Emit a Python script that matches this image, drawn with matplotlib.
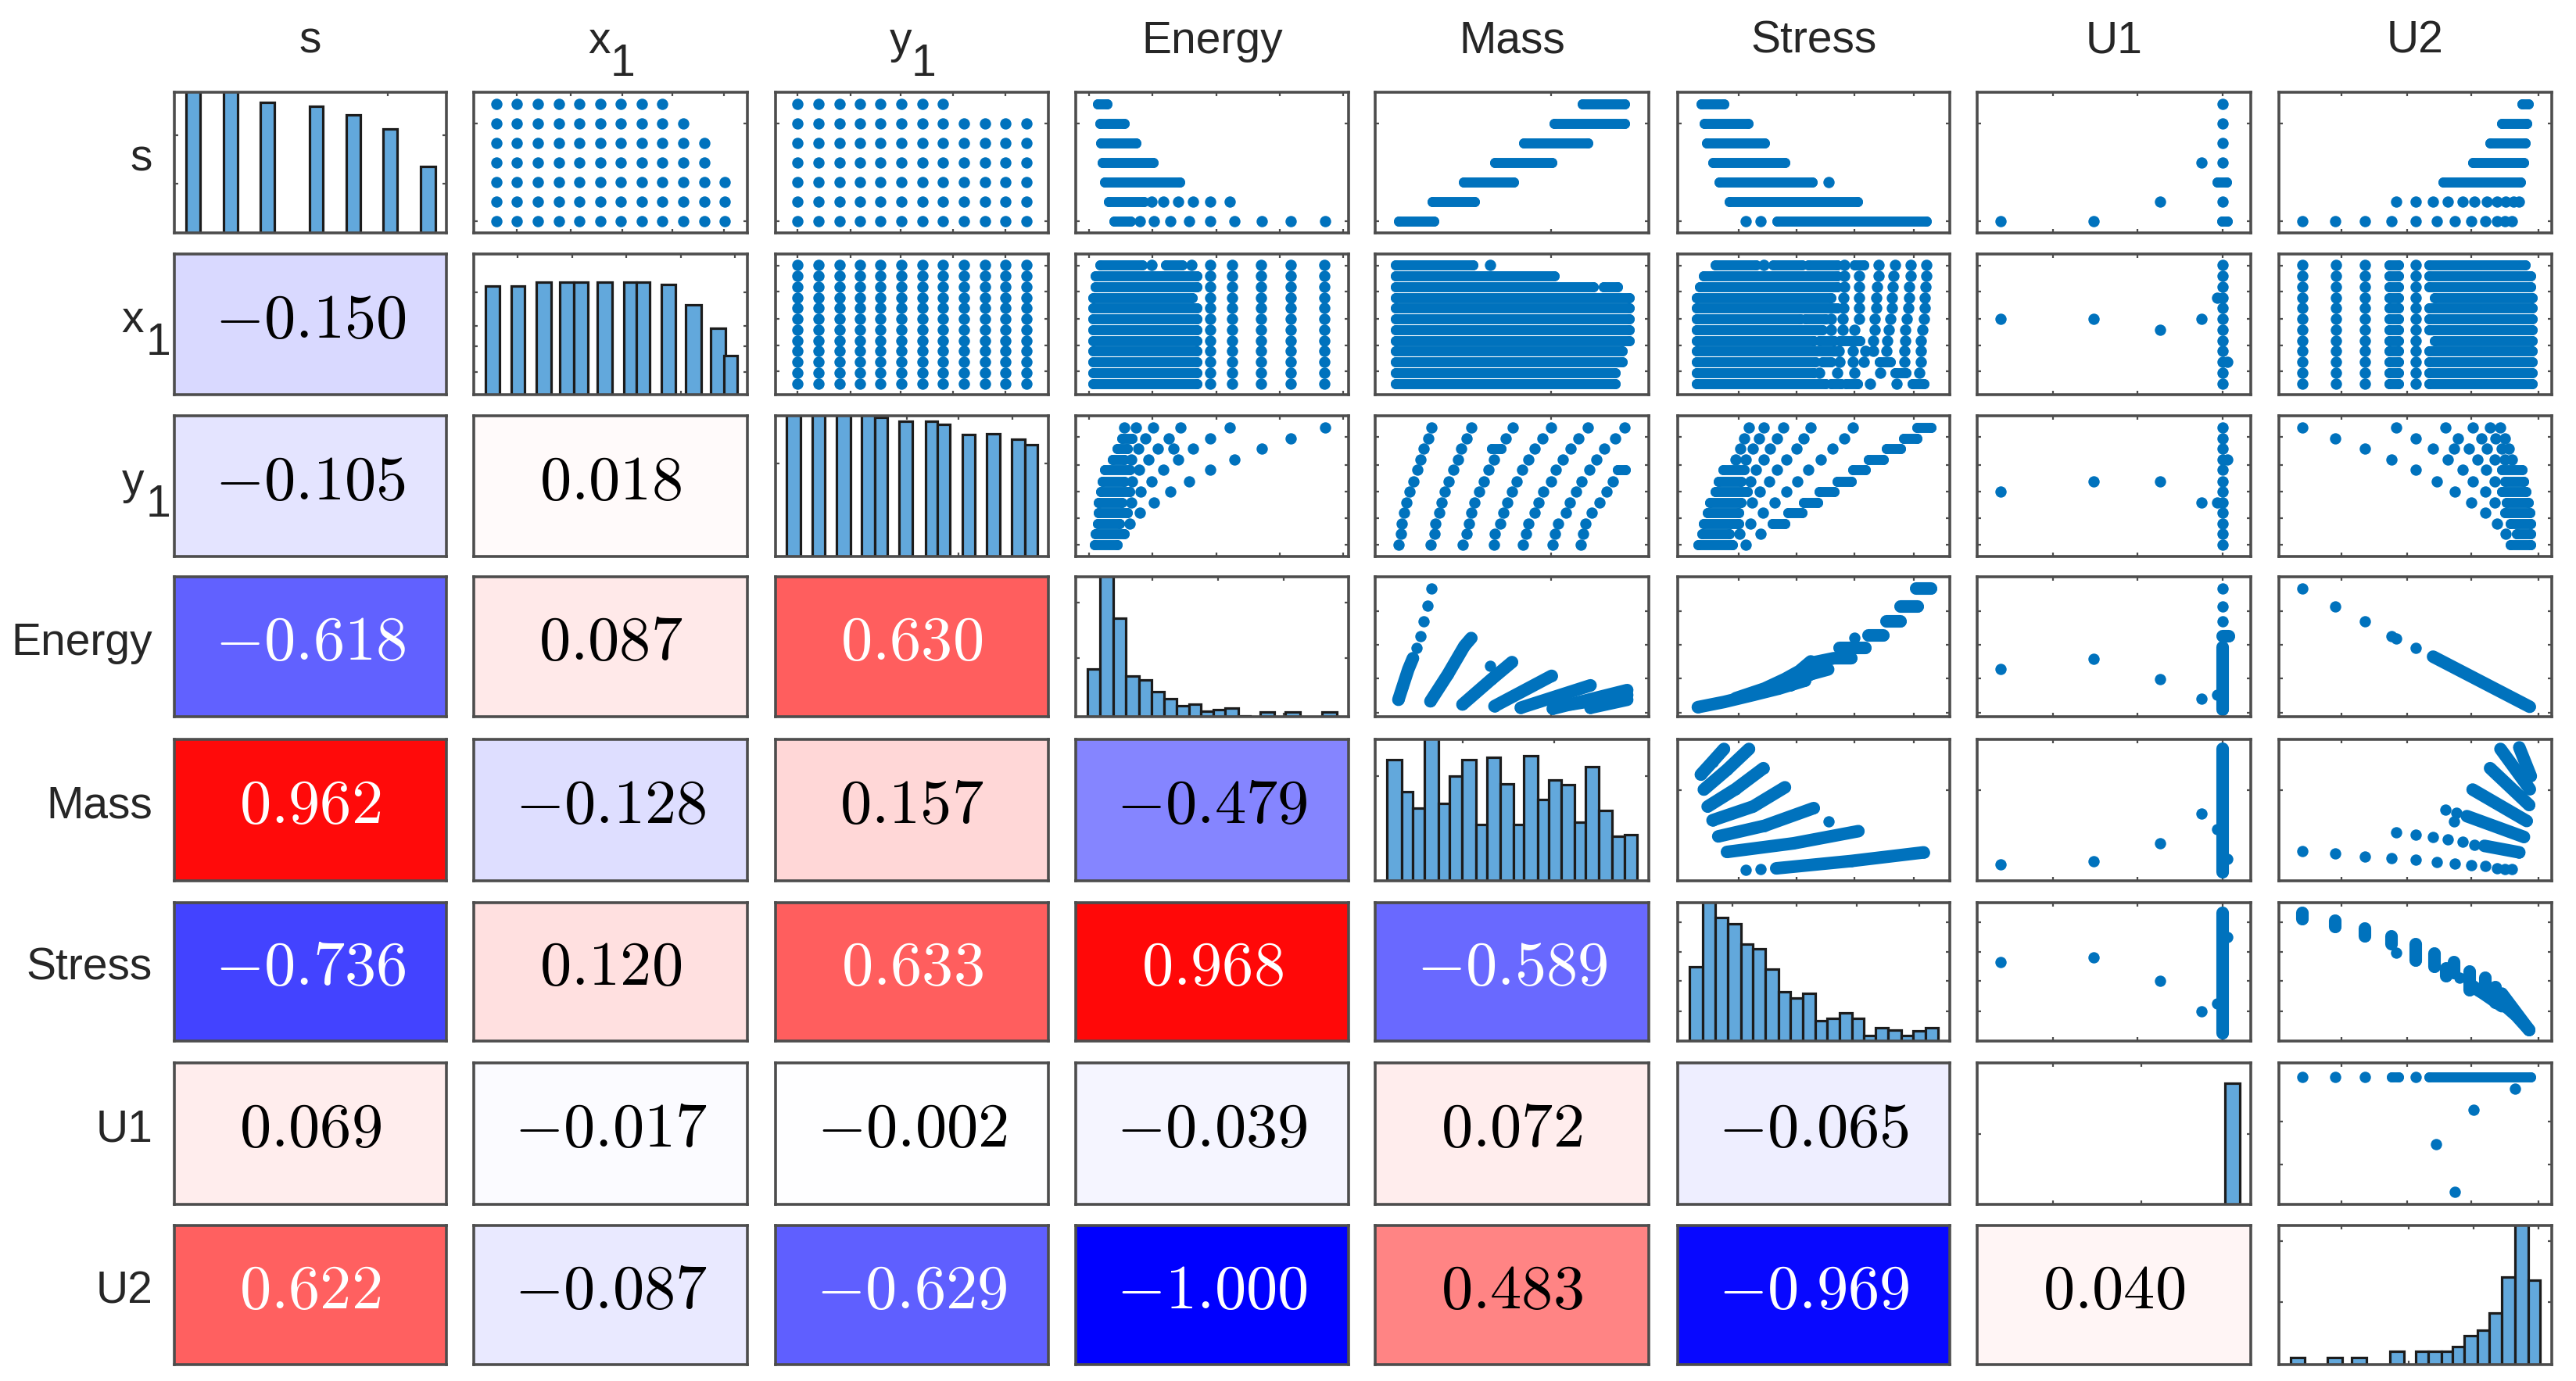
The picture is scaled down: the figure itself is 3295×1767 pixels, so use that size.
import numpy as np
from matplotlib import pyplot as plt

plt.rcParams['font.family'] = ['Liberation Sans', 'DejaVu Sans']
plt.rcParams['mathtext.fontset'] = 'cm'

########################################################################
# Variables and correlations
########################################################################

names = [('s', ''), ('x', '1'), ('y', '1'), ('Energy', ''), ('Mass', ''),
         ('Stress', ''), ('U1', ''), ('U2', '')]

corr_row1 = [-0.150]
corr_row2 = [-0.105, 0.018]
corr_row3 = [-0.618, 0.087, 0.630]
corr_row4 = [0.962, -0.128, 0.157, -0.479]
corr_row5 = [-0.736, 0.120, 0.633, 0.968, -0.589]
corr_row6 = [0.069, -0.017, -0.002, -0.039, 0.072, -0.065]
corr_row7 = [0.622, -0.087, -0.629, -1.000, 0.483, -0.969, 0.040]

########################################################################
# Histograms on the diagonal (bar left, bar right, bar height), scaled 0-100
# bars higher than 100 run off the top of their panel
########################################################################

s_left = [4.2, 18.2, 31.6, 49.8, 63.1, 76.8, 90.5]
s_right = [9.5, 23.4, 36.9, 54.7, 68.4, 82, 96]
s_height = [110, 110, 93, 90, 84, 74, 47]

x1_left = [4.2, 13.7, 22.9, 31.5, 36.6, 45.2, 54.9, 59.5, 68.7, 77.5, 86.6, 91.4]
x1_right = [9.5, 18.6, 28.2, 36.6, 41.7, 50.7, 59.5, 64.4, 73.6, 83, 91.9, 96.2]
x1_height = [77, 77, 80, 80, 80, 80, 80, 80, 78.4, 64, 47, 28]

y1_left = [4.1, 13.4, 22.4, 31.5, 36.3, 45.4, 54.9, 59.2, 68.5, 77.4, 86.4, 91.4]
y1_right = [9.1, 18.1, 27.4, 36.3, 41.1, 50, 59.2, 63.8, 73.1, 82.3, 91.4, 96]
y1_height = [110, 110, 110, 110, 99, 96, 96, 94, 86.5, 87, 83.5, 79.7]

energy_left = [4.3, 9, 13.7, 18.4, 23.1, 27.7, 32.4, 37.1, 41.6, 45.8, 50.5, 54.8, 59.7, 67.6, 76.8, 90.4]
energy_right = [9, 13.7, 18.4, 23.1, 27.7, 32.4, 37.1, 41.6, 45.8, 50.5, 54.8, 59.7, 64, 72.9, 82.1, 95.8]
energy_height = [33.8, 110, 70.3, 28.8, 26.5, 18, 12.6, 7.6, 8.7, 3.9, 5.3, 6.4, 0.7, 3.4, 3.4, 3.4]

mass_left = [4.3, 9.6, 13.8, 18.1, 23.2, 27, 31.7, 36.8, 40.9, 45.7, 50.6, 54.4, 59.5, 63.3, 68, 72.9, 76.9, 81.8, 86.7, 91]
mass_right = [9.6, 13.8, 18.1, 23.2, 27, 31.7, 36.8, 40.9, 45.7, 50.6, 54.4, 59.5, 63.3, 68, 72.9, 76.9, 81.8, 86.7, 91, 95.7]
mass_height = [85.5, 62.8, 51.6, 110, 54.9, 74.1, 85.5, 39.6, 87.3, 68.6, 39.6, 88.4, 57.5, 71.5, 68.1, 41.6, 80.5, 49.9, 31.7, 32.4]

stress_left = [4.3, 9.1, 13.8, 18.5, 23.2, 27.6, 32.3, 37, 41.3, 45.9, 50.6, 55, 59.6, 64, 68.5, 72.8, 77.4, 82.1, 86.6, 91]
stress_right = [9.1, 13.8, 18.5, 23.2, 27.6, 32.3, 37, 41.3, 45.9, 50.6, 55, 59.6, 64, 68.5, 72.8, 77.4, 82.1, 86.6, 91, 95.7]
stress_height = [53.7, 110, 89.2, 84.7, 70.3, 66.8, 51.9, 35.5, 30.9, 34.3, 14.9, 16.5, 20.6, 16.5, 3.9, 9.6, 8, 3.9, 7.3, 9.6]

u1_left = [90.6]
u1_right = [96.1]
u1_height = [85.5]

u2_left = [4.3, 17.7, 26.7, 40.6, 50.1, 54.6, 59.5, 63.5, 68, 72.7, 77, 81.7, 86.6, 91.3]
u2_right = [9.4, 23.2, 32, 45.9, 54.6, 59.5, 63.5, 68, 72.7, 77, 81.7, 86.6, 91.3, 95.7]
u2_height = [4.8, 4.8, 4.8, 9.8, 9.8, 9.8, 9.8, 12.8, 20.8, 24.7, 36.8, 63, 110, 60.7]

########################################################################
# Scatter panels, scaled 0-100
# rows: one list per level, a number is a dot, a pair is a solid run of dots
# tracks: lists of (x, y) vertices along a band of dots
########################################################################

s_levels = [91.6, 77.7, 63.9, 50, 36.1, 22.3, 8.4]
x1_levels = [92, 84.3, 76.7, 69, 61.4, 53.8, 46.2, 38.5, 30.9, 23.3, 15.6, 8]
y1_levels = [91.6, 83.9, 76.4, 68.9, 61.4, 53.6, 46.1, 38.4, 30.9, 23.4, 15.9, 8.2]

x1_values = [8.2, 15.8, 23.5, 31.1, 38.5, 46.2, 53.8, 61.5, 68.9, 76.5, 84.2, 91.8]
y1_values = [8.1, 15.8, 23.4, 31, 38.5, 46.1, 53.8, 61.4, 69, 76.7, 84.3, 91.9]

s_x1_counts = [9, 10, 11, 11, 12, 12, 12]
s_y1_counts = [8, 12, 12, 12, 12, 12, 12]

s_energy = [
    [(7.9, 11.5)],
    [(8.8, 17.9)],
    [(9.2, 22)],
    [(9.7, 28.4)],
    [(10.6, 38)],
    [(12, 25), 27.7, 32.2, 37.4, 42.9, 49.3, 56.4],
    [(14, 20), 23.6, 28.6, 34.8, 41.6, 49.3, 58.2, 68.3, 78.9, 91.4],
]
s_mass = [
    [(75.6, 91)],
    [(65.5, 91)],
    [(54.2, 77.8)],
    [(43.6, 64.5)],
    [(32.4, 50.5)],
    [(20.9, 36.4)],
    [(8.7, 21.5)],
]
s_stress = [
    [(8.5, 17)],
    [(9.8, 26)],
    [(10.6, 32)],
    [(12.8, 39.4)],
    [(15.3, 49.4), 55.5],
    [(19, 66)],
    [24.9, 30.6, (36.6, 91.5)],
]
s_u1 = [
    [89.8],
    [89.8],
    [89.8],
    [82, 89.8],
    [(87.7, 91)],
    [66.9, 89.8],
    [8.5, 42.7, (89.4, 91.5)],
]
s_u2 = [
    [(89.1, 91.3)],
    [(81.7, 90.8)],
    [(77.4, 90.2)],
    [(71, 89.8)],
    [(60.3, 88.5)],
    [42.9, 50.1, 56.5, 62, 67.2, 71.6, 76.3, 80, 83.2, 85.9, 88],
    [8.5, 20.5, 31.6, 41.2, 50.1, 57.8, 64.6, 70.6, 75.7, 80, 82.9, 85.5],
]

x1_energy_every = [49.3, 57.3, 68, 78.9, 91.2]
x1_energy = [
    [(8.8, 24.4), 27.7, (33, 39), 42.3],
    [(7.3, 44.5)],
    [(7.3, 44.5)],
    [(6.4, 42.7)],
    [(6.4, 44.5)],
    [(6.4, 44.5)],
    [(6.4, 44.5)],
    [(6.4, 44.5)],
    [(6.4, 44.5)],
    [(6.4, 44.5)],
    [(6.4, 44.5)],
    [(6.4, 44.5)],
]
x1_mass = [
    [(7.3, 35.6), 42],
    [(7.3, 65.5)],
    [(7.3, 79.6), (83.3, 88.7)],
    [(7.3, 92.9)],
    [(7.3, 92.9)],
    [(7.3, 92.9)],
    [(7.3, 92.9)],
    [(7.3, 92.9)],
    [(7.3, 90.2)],
    [(7.3, 90.2)],
    [(7.3, 87.8)],
    [(7.3, 87.8)],
]
x1_stress = [
    [(13.8, 28.7), 31.5, (35.1, 45.7), (47.9, 58.5), 61.3, (64.9, 68.5), 73.8, 79.8, 85.7, 91.5],
    [(9.6, 58.5), 61.3, 66.6, 73.8, 79.4, 85.5, 91.5],
    [(8.1, 58.5), 61.3, 66.6, 73.4, 79.1, 85.1, 91.1],
    [(6.8, 56.4), 60.9, 66.6, 73, 78.7, 85.1, 90.9],
    [(6.8, 58.5), 60.9, 66.6, 73, 78.7, 84.7, 90.9],
    [(6.8, 45.1), (46.8, 54.3), 56.4, 60.6, 66.6, 72.3, 78.3, 84.3, 90.4],
    [(6.8, 53.2), 56.4, 60.6, 64.9, 72.3, 77.7, 83.6, 90],
    [(6.8, 50), (52.1, 57.4), (59.6, 67), 71.9, 77, 83.6, 89.4],
    [(6.8, 57.4), 59.1, 64.3, 69.1, 71.7, 76.6, 83.4, 89.4],
    [(6.8, 50.6), (53.2, 56.4), 59.6, 64.3, 68.5, (74, 78.3), 83.4, 89.4],
    [(6.8, 50), 52.1, 58.5, 64.9, 74.5, (79.8, 84), 88.9],
    [(6.8, 54.3), (56.4, 60.2), (61.7, 66), 70.6, 80.4, (86.2, 90.4)],
]
x1_u1_every = [89.8]
x1_u1 = [[], [], [], [87.7], [], [8.5, 42.7, 82], [66.9], [], [], [91.5], [], []]
x1_u2_every = [8.5, 20.9, 31.6, (40.5, 43.7), 50.1]
x1_u2 = [
    [(55, 90.2)],
    [(55, 92.3)],
    [(55, 92.3)],
    [(57, 92.9)],
    [(55, 92.9)],
    [(55, 92.9)],
    [(55, 92.9)],
    [(57, 92.9)],
    [(55, 92.9)],
    [(55, 92.9)],
    [(55, 92.9)],
    [(55, 92.9)],
]

y1_energy = [
    [17.9, 22.2, 28.4, 38.5, 56.4, 91.4],
    [(17, 20.7), 25.6, 34.1, 49.3, 78.9],
    [(15.2, 18.9), 22.9, 30.2, 35.7, 43, 68.3],
    [(13.4, 17.9), 20.3, 26.6, 37.4, 58.2],
    [(10.6, 19.8), 23.3, 32.2, 49.3],
    [(9.7, 17.9), 20.7, 27.7, 41.6],
    [(9.2, 19.8), 23.8, 34.6],
    [(8.4, 17), 20.3, 28.6],
    [(8.4, 18.9), 23.6],
    [(7.9, 16.1), 19.8],
    [(7.3, 17.9)],
    [(7, 15.2)],
]
y1_mass = [
    [20.5, 35.1, 50.2, 64.2, 77.8, 91.1],
    [19.3, 33.3, 47.8, 61.1, 74.4, 87.8],
    [17.8, 31.5, (42.5, 46), 58.2, 71.5, 83.8],
    [16.5, 30.2, 43.3, 56, 68.7, 80.9],
    [15.3, 28.7, 41.5, 53.8, 66, 78.4, (88.5, 91.5)],
    [14, 26.9, 39.6, 51.8, 64.2, 75.5, 86.9],
    [12.7, 25.5, 38, 50, 61.5, 73.3, 84.5],
    [11.5, 24.2, 36.4, 48.2, 59.8, 71.1, 82],
    [10.5, 23.3, 35.1, 46.9, 58.2, 69.6, 79.1],
    [9.8, 22, 34.2, 45.6, 56, 66.9, 76.9],
    [9.3, 21.8, 33.3, 43.8, 55.1, 65.6, 76],
    [8.5, 20.4, 32, 43.3, 54, 64.9, 75.1],
]
y1_stress = [
    [26.2, 31.5, 38.7, 48.9, 64.5, (88, 93)],
    [24.5, 29.8, 36.6, 46.4, 61.3, (83, 88)],
    [23, 27.7, 34, 43.6, 57, (76.6, 82)],
    [21.3, 25.1, 31.5, 39.8, 52.6, (70.2, 75.5)],
    [(16.6, 24.5), 28.7, 36.6, 48.1, (64.3, 69.1)],
    [(14.9, 23.4), 26.6, 33.6, 44, (58.5, 63.8)],
    [(13.8, 25.5), 30.2, 39.8, (52.1, 57.4)],
    [(11.7, 23.4), 27.2, 35.5, (46.4, 51.5)],
    [(11, 22.3), 31.3, (40.4, 45.7)],
    [(9.6, 22.3), 26.8, (34.7, 39.4)],
    [(8.9, 19.1), 22.8, 30.6],
    [(7.4, 20.2), 24.9],
]
y1_u1_every = [89.8]
y1_u1 = [[], [], [], [91.5], [], [42.7, 66.9], [8.5], [82, 87.7], [], [], [], []]
y1_u2 = [
    [8.5, 42.9, 61, 71, 77.4, 81.2],
    [20.5, 50.1, 65.7, 74.2, 79.5, 82.7],
    [31.6, 56.5, 64.2, 69.5, 76.3, 81.7, 84.2],
    [41.2, 62, 72.7, 79.1, 82.7, 85.5],
    [50.1, 67.2, 75.9, (81.7, 89.1)],
    [57.8, 71, 79.1, (82.7, 89.8)],
    [64.6, 75.7, (81.7, 90.6)],
    [70.6, 79.1, (83.4, 91.3)],
    [75.7, (82.7, 91.9)],
    [80, (84.9, 92.3)],
    [83.2, (87, 92.3)],
    [(84.9, 92.3)],
]

energy_mass = [
    [(8.5, 12.1), (10, 21.2), (12.1, 33.8), (13.8, 41.8)],
    [(15.1, 49.1)], [(16.6, 57.8)], [(17.7, 68)], [(19.1, 79.5)], [(20.6, 91.6)],
    [(20.2, 11), (26.6, 30.4), (32.6, 50.5), (35.1, 56.2)],
    [(31.9, 8.7), (42.6, 26.9), (50, 39)],
    [(41.9, 36.1)],
    [(43.6, 7.5), (64.5, 29.2)],
    [(53.2, 6.4), (78.7, 22.4)],
    [(64.9, 5.7), (92.1, 19)],
    [(71.3, 8.7), (92.1, 15.5)],
    [(78.7, 6.4), (92.1, 12.1)],
]
energy_stress = [
    [(7.4, 6.8), (17, 10.5), (27.7, 15.5), (37.2, 20.1), (46.8, 25.8)],
    [(21.3, 13.2), (31.9, 20.1), (39.4, 26.9), (44.7, 32.6), (48.9, 39.5)],
    [(41.5, 22.4), (48.9, 30.4), (55.3, 33.8)],
    [(48.9, 38.4), (57.4, 41.8), (63.8, 41.8)],
    [(59.6, 49.1), (69, 49.1)],
    [(64.9, 56.2)],
    [(70.2, 58.2), (75.5, 58.2)],
    [(76.6, 68), (82, 68)],
    [(81.9, 79), (88.3, 79)],
    [(87.7, 91.6), (93.2, 91.6)],
]
energy_u1 = [
    [(89.8, 91.6)], [(89.8, 79)], [(89.8, 68)],
    [(89.8, 57.8), (92, 57.8)],
    [(89.8, 49.8), (89.8, 5.3)],
    [(8.5, 34.2)], [(42.7, 41.3)], [(66.9, 26.9)], [(82, 12.6)], [(87.7, 15.5)],
]
energy_u2 = [
    [(8.5, 91.6)], [(20.5, 79)], [(31.6, 68)], [(41.2, 57.8)], [(42.9, 56)], [(50.1, 49.1)],
    [(56.5, 42.9), (91.9, 7.1)],
]

mass_stress = [
    [(8.5, 75.1), (12.8, 84.2), (17, 93.2)],
    [(9.6, 64.5), (18.1, 78.5), (26.2, 93.2)],
    [(11, 52.5), (21.3, 64.9), (31.5, 79.6)],
    [(12.8, 42.8), (27.7, 52.5), (39.4, 66.1)],
    [(14.9, 31.4), (31.9, 38.9), (50, 51.4)],
    [(55.5, 41.9)],
    [(18.1, 20.4), (42.6, 26.5), (66.4, 35.1)],
    [(24.9, 7.9)], [(30.6, 8.4)],
    [(36.2, 8.8), (63.8, 14), (90.4, 20.1)],
]
mass_u1 = [
    [(89.8, 93.2), (89.8, 6.1)],
    [(82, 47.5)], [(87.7, 36.7)], [(66.9, 26.5)], [(8.5, 11.8)], [(42.7, 13.6)], [(91.5, 15.6)],
]
mass_u2 = [
    [(8.5, 20.8)], [(20.5, 19.2)], [(31.6, 17.4)], [(41.2, 15.8)], [(50.1, 14.7)], [(57.8, 13.3)],
    [(64.6, 12.4)], [(70.6, 11.1)], [(75.7, 10.6)], [(80, 8.8)], [(82.9, 8.4)], [(85.5, 8.4)],
    [(42.9, 34.4)], [(50.1, 32.8)], [(56.5, 31)], [(62, 29.2)], [(67.2, 27.6)], [(71.6, 25.3)],
    [(75.3, 24.7), (88.1, 20.1)],
    [(61, 50.2)], [(65, 48)], [(64.2, 41.9)],
    [(68.9, 45.7), (89.8, 31)],
    [(71, 64.5), (90.8, 42.3)],
    [(77.4, 79.6), (91.7, 53.6)],
    [(81.2, 93.2), (91.9, 64.9)],
    [(88.1, 94.3), (92.3, 74)],
]

stress_u1 = [
    [(89.8, 92.7), (89.8, 5.7)],
    [(91.5, 75)], [(8.5, 56.8)], [(42.7, 60.2)], [(66.9, 43.5)], [(82, 21.3)], [(87.7, 27)],
]
stress_u2 = [
    [(8.5, 92.7), (8.5, 88)],
    [(20.5, 87), (20.5, 82.4)],
    [(31.6, 81.2), (31.6, 75.5)],
    [(41.2, 75.5), (41.2, 69.8)],
    [(42.9, 64)],
    [(50.1, 69.8), (50.1, 58.4)],
    [(57.1, 63), (57.1, 53.8)],
    [(61.4, 52.6), (61.4, 46.9)],
    [(64.2, 57.2), (64.2, 49.2)],
    [(66.1, 45.8)],
    [(69.9, 50.3), (69.9, 36.6)],
    [(75.7, 45.8), (75.7, 34.3)],
    [(79.5, 38.9), (79.5, 27.5)],
    [(69.9, 41.2), (81.7, 25.2)],
    [(81.7, 34.3), (91.7, 8)],
    [(73.1, 36.6), (81.7, 27.5), (87, 18.3), (91.7, 8)],
]

u1_u2_level = 89.9
u1_u2_top = [8.5, 20.5, 31.6, (41.2, 43.7), 50.1, (55, 92.3)]
u1_u2_low = [[(86.4, 81.7)], [(71.4, 66.9)], [(57.6, 42.5)], [(64.6, 8.7)]]

# tick marks per column and row of the scatter panels, and per histogram
col_ticks = [[78.5], [15.8, 35.5, 54.2, 72.7, 91.5], [8.1, 27.5, 45.8, 64.9, 84.2],
             [4.8, 28, 51.5, 74.7, 98], [64.2], [22.3, 43.6, 64.9, 86.8],
             [27.8, 58.6, 89.8], [23, 46.9, 70.6, 95]]
row_ticks = [[77.7, 8.4], [91.6, 73.4, 53.7, 35, 16.5], [84.8, 64.8, 46.1, 27.3, 8.6],
             [75.6, 51.6, 27.6, 3], [64.3], [85.8, 64.5, 43.5, 21.7],
             [58.6, 28.4], [89, 44.7]]
hist_xticks = [[78.5], [15.9, 36, 55.8, 75.6, 95.4], [48.2, 67.1, 86.9], [28.1, 52.2, 76.3],
               [31.9, 65.5], [20.2, 43.6, 65.9, 88.7], [27.8, 60], [23, 47.5, 71.4, 95]]
hist_yticks = [[69.4, 35.2], [73, 49, 34.4, 16], [66], [81.7, 41.8], [74],
               [85.8, 64.5, 43.5, 21.7], [49.7], [89, 44.7]]

########################################################################
# Layout in pixels and styles
########################################################################

W, H = 3295, 1767
col_left = [223, 606, 992, 1376, 1759, 2146, 2529, 2915]
col_right = [571, 956, 1341, 1725, 2109, 2494, 2879, 3264]
row_top = [118, 325, 532, 738, 946, 1155, 1360, 1568]
row_bottom = [298, 505, 712, 917, 1127, 1332, 1541, 1746]

DOT_BLUE = '#0072bd'
DOT_SIZE = 10.4
RUN_WIDTH = 9.3
BAND_WIDTH = 11.6
FRAME = '#4d4d4d'


def draw_track(ax, xs, ys, width=DOT_SIZE, size=DOT_SIZE):
    ax.plot(xs, ys, color=DOT_BLUE, lw=width, marker='o', ms=size, mew=0,
            solid_capstyle='round', solid_joinstyle='round')


def draw_rows(ax, levels, rows, every=()):
    for y, items in zip(levels, rows):
        for item in list(items) + list(every):
            if isinstance(item, tuple):
                draw_track(ax, item, [y, y], RUN_WIDTH, RUN_WIDTH)
            else:
                draw_track(ax, [item], [y])


def draw_tracks(ax, tracks):
    for track in tracks:
        xs = [p[0] for p in track]
        ys = [p[1] for p in track]
        draw_track(ax, xs, ys, BAND_WIDTH)


def draw_hist(ax, left, right, height):
    left = np.array(left)
    right = np.array(right)
    ax.bar(left, height, width=right - left, align='edge', color='#62a8dc',
           edgecolor='#1c1c1c', linewidth=2.3, zorder=2)


def make_axes(fig, i, j):
    x0 = col_left[j] / W
    y0 = 1 - row_bottom[i] / H
    ax = fig.add_axes([x0, y0, (col_right[j] - col_left[j]) / W, (row_bottom[i] - row_top[i]) / H])
    ax.set_xlim(0, 100)
    ax.set_ylim(0, 100)
    for spine in ax.spines.values():
        spine.set_color(FRAME)
        spine.set_linewidth(2.6)
    ax.tick_params(direction='in', length=3.5, width=1.6, color=FRAME, top=True, right=True,
                   labelbottom=False, labelleft=False)
    ax.set_xticks([])
    ax.set_yticks([])
    return ax


def add_label(fig, x, y, text, ha):
    fig.text(x / W, 1 - y / H, text, fontsize=41, color='#262626', ha=ha, va='baseline')


def col_label(fig, j, base, sub):
    center = (col_left[j] + col_right[j]) / 2
    if sub:
        add_label(fig, center - 29, 68, base, 'left')
        add_label(fig, center + 15, 97, sub, 'center')
    else:
        add_label(fig, center, 68, base, 'center')


def row_label(fig, i, base, sub):
    baseline = (row_top[i] + row_bottom[i]) / 2 + 10
    if sub:
        add_label(fig, 184, baseline, base, 'right')
        add_label(fig, 202, baseline + 29, sub, 'center')
    else:
        add_label(fig, 195, baseline, base, 'right')


########################################################################
# Scatter matrix
########################################################################

fig = plt.figure(figsize=(W / 100, H / 100), dpi=100, facecolor='white')

correlations = [corr_row1, corr_row2, corr_row3, corr_row4, corr_row5, corr_row6, corr_row7]
for i, values in enumerate(correlations):
    for j, v in enumerate(values):
        ax = make_axes(fig, i + 1, j)
        if v < 0:
            ax.set_facecolor((1 + v, 1 + v, 1))
        else:
            ax.set_facecolor((1, 1 - v, 1 - v))
        colour = 'white' if abs(v) > 0.5 else 'black'
        ax.text(50, 52.5, '$%.3f$' % v, fontsize=58, color=colour, ha='center', va='center')

hists = [(s_left, s_right, s_height), (x1_left, x1_right, x1_height), (y1_left, y1_right, y1_height),
         (energy_left, energy_right, energy_height), (mass_left, mass_right, mass_height),
         (stress_left, stress_right, stress_height), (u1_left, u1_right, u1_height),
         (u2_left, u2_right, u2_height)]
for k, (left, right, height) in enumerate(hists):
    ax = make_axes(fig, k, k)
    draw_hist(ax, left, right, height)
    ax.set_xticks(hist_xticks[k])
    ax.set_yticks(hist_yticks[k])

panels = {}
for i in range(8):
    for j in range(i + 1, 8):
        ax = make_axes(fig, i, j)
        ax.set_xticks(col_ticks[j])
        ax.set_yticks(row_ticks[i])
        panels[(i, j)] = ax

draw_rows(panels[(0, 1)], s_levels, [x1_values[:n] for n in s_x1_counts])
draw_rows(panels[(0, 2)], s_levels, [y1_values[:n] for n in s_y1_counts])
draw_rows(panels[(0, 3)], s_levels, s_energy)
draw_rows(panels[(0, 4)], s_levels, s_mass)
draw_rows(panels[(0, 5)], s_levels, s_stress)
draw_rows(panels[(0, 6)], s_levels, s_u1)
draw_rows(panels[(0, 7)], s_levels, s_u2)

draw_rows(panels[(1, 2)], x1_levels, [y1_values] * 12)
draw_rows(panels[(1, 3)], x1_levels, x1_energy, x1_energy_every)
draw_rows(panels[(1, 4)], x1_levels, x1_mass)
draw_rows(panels[(1, 5)], x1_levels, x1_stress)
draw_rows(panels[(1, 6)], x1_levels, x1_u1, x1_u1_every)
draw_rows(panels[(1, 7)], x1_levels, x1_u2, x1_u2_every)

draw_rows(panels[(2, 3)], y1_levels, y1_energy)
draw_rows(panels[(2, 4)], y1_levels, y1_mass)
draw_rows(panels[(2, 5)], y1_levels, y1_stress)
draw_rows(panels[(2, 6)], y1_levels, y1_u1, y1_u1_every)
draw_rows(panels[(2, 7)], y1_levels, y1_u2)

draw_tracks(panels[(3, 4)], energy_mass)
draw_tracks(panels[(3, 5)], energy_stress)
draw_tracks(panels[(3, 6)], energy_u1)
draw_tracks(panels[(3, 7)], energy_u2)

draw_tracks(panels[(4, 5)], mass_stress)
draw_tracks(panels[(4, 6)], mass_u1)
draw_tracks(panels[(4, 7)], mass_u2)

draw_tracks(panels[(5, 6)], stress_u1)
draw_tracks(panels[(5, 7)], stress_u2)

draw_rows(panels[(6, 7)], [u1_u2_level], [u1_u2_top])
draw_tracks(panels[(6, 7)], u1_u2_low)

for k, (base, sub) in enumerate(names):
    col_label(fig, k, base, sub)
    row_label(fig, k, base, sub)

fig.savefig('out.png', dpi=100)
